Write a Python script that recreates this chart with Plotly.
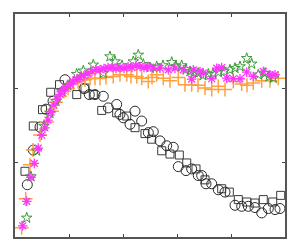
import plotly.graph_objects as go

# pixel-read values converted to data units: x in [0,5], y in [0,3]
def cx(p): return round((p - 15) / 54, 3)
def cy(p): return round((237 - p) / 75, 3)

circ_px = [(27.3,184.3),(33.3,149.3),(40,126),(46,108),(53,100),(65,78.3),(84,87.3),(89.3,93.3),(95,93.3),
           (103.3,95),(108.3,106.7),(116.7,103.3),(120,113.3),(123.3,116.7),(130,123.3),(135,110),(141.7,120),
           (148.3,131.7),(153.3,130.7),(160,140),(166.7,145),(173.3,146.5),(178.3,166),(186,170),(191.7,168.3),
           (198.3,175),(201.7,175),(206,183.3),(211.7,183.3),(218.3,189.3),(225,191.7),(235,205),(241.7,206),
           (248.3,206),(255,207.3),(261.7,212.7),(268.3,208.3),(275,209.3),(280,208.3)]
sq_px = [(25,170.7),(33.3,125),(42.5,108.5),(50.7,91),(59.5,83.3),(76.7,93.3),(85,86.7),(93.3,93.3),
         (101.7,109.3),(116.7,111.7),(126.7,115),(135,126.7),(145,132.7),(151.7,138.3),(161.7,150),(170,153.3),
         (179.3,154.3),(186.7,162.3),(196,168.3),(205,179.3),(221.7,188.3),(229.3,191.7),(238.3,199.3),
         (246.7,201.7),(255,202.7),(263.3,199.3),(272.7,201.7),(280.7,195)]
mag_px = [(22.7,225.7),(26.7,201),(31,176.7),(34.3,162.7),(38.3,147.3),(41.7,134.3),(45,127),(48,119),(51,111),
          (54,104),(57,98),(60,93),(63,89),(66,86),(70,83),(73,80),(77,78),(80,76),(84,74),(88,72),(92,70),
          (96,68),(100,68),(104,67),(108,66),(112,66),(116,67),(120,66),(124,67),(128,65),(132,66),(136,64),
          (140,65),(144,66),(148,65),(153.3,66.7),(160,66.7),(168.3,68.3),(175,66.7),(183.3,68.3),(191.7,77.7),
          (193.3,68.3),(200,70),(203.3,71.7),(211.7,77.3),(216.7,66.7),(221.7,66),(226.7,76.7),(233.3,77.3),
          (240,77.3),(246.7,70.7),(253.3,75),(263.3,70),(270,73.3),(275,73.3)]
grn_px = [(26.7,217.7),(31,176),(36.7,150),(44,125),(50,112),(56,100),(62,90),(68,84),(76.7,72.7),(83.3,69.3),
          (93.3,63.3),(103.3,71.7),(110,55),(115,60),(122,64),(133.3,60),(138.3,53.3),(143.3,62.7),(150,66),
          (156.7,65),(163,64),(171.7,60.7),(176,65),(181.7,64),(186,68),(190,70),(194,71),(198.3,71.7),(203,74),
          (208.3,72.7),(213,72),(218.3,70.7),(224,70),(230,68.3),(235,66.7),(240,65),(246.7,56.7),(251.7,62.3),
          (258.3,73.3),(265,71.7),(269,75),(273.3,76.7)]
org_px = [(21.7,227.7),(25.7,198.3),(30,164),(33,149.3),(40,134),(47,121),(52,110),(56,101),(60,95),(64,90),
          (68,87),(73.3,81.7),(78,80),(81.7,78.3),(85,78.3),(90,77),(95,76.7),(100,77),(106,76),(113.3,75),
          (120,73.3),(126.7,73.3),(131,75),(136.7,75),(141.7,76.7),(148.3,80),(152,76),(156.7,73.3),(163.3,76.7),
          (170,79.3),(178.3,76),(185,83.3),(191.7,83.3),(198,84),(205,86.7),(211.7,88.3),(218.3,85),(225,88.3),
          (233.3,80),(241.7,82.7),(247,84),(253.3,81.7),(261.7,79.3),(270,79.3),(278.3,76.7)]

circ_x = [cx(p[0]) for p in circ_px]; circ_y = [cy(p[1]) for p in circ_px]
sq_x = [cx(p[0]) for p in sq_px]; sq_y = [cy(p[1]) for p in sq_px]
mag_x = [cx(p[0]) for p in mag_px]; mag_y = [cy(p[1]) for p in mag_px]
grn_x = [cx(p[0]) for p in grn_px]; grn_y = [cy(p[1]) for p in grn_px]
org_x = [cx(p[0]) for p in org_px]; org_y = [cy(p[1]) for p in org_px]

fig = go.Figure()
fig.add_trace(go.Scatter(x=sq_x, y=sq_y, mode="markers",
    marker=dict(symbol="square-open", size=8, color="#3a3a3a", line=dict(width=1))))
fig.add_trace(go.Scatter(x=circ_x, y=circ_y, mode="markers",
    marker=dict(symbol="circle-open", size=10, color="#2a2a2a", line=dict(width=1))))
fig.add_trace(go.Scatter(x=org_x, y=org_y, mode="markers",
    marker=dict(symbol="cross-thin-open", size=10, color="#ffa040", line=dict(width=1.5))))
fig.add_trace(go.Scatter(x=grn_x, y=grn_y, mode="markers",
    marker=dict(symbol="star-open", size=8, color="#3a9a3a", line=dict(width=1))))
fig.add_trace(go.Scatter(x=mag_x, y=mag_y, mode="markers",
    marker=dict(symbol="asterisk-open", size=8, color="#ff33ff", line=dict(width=1.3))))

axis_common = dict(showgrid=False, zeroline=False, showticklabels=False, ticks="inside", ticklen=3,
                   tickcolor="#444444", showline=True, linecolor="#555555", linewidth=1.5, mirror="ticks")
fig.update_xaxes(range=[0, 5], tickvals=[1, 2, 3, 4], **axis_common)
fig.update_yaxes(range=[0, 3], tickvals=[1, 2], **axis_common)
fig.update_layout(width=300, height=250, margin=dict(l=15, r=15, t=12, b=13),
                  paper_bgcolor="white", plot_bgcolor="white", showlegend=False)
fig.write_html("out.html")
